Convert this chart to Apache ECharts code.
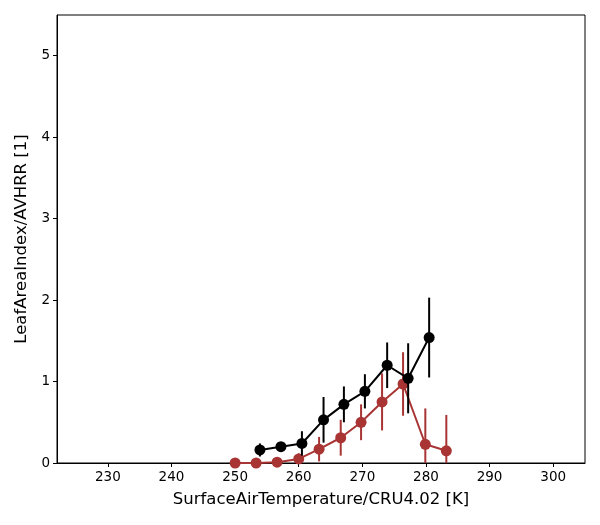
<!DOCTYPE html>
<html>
<head>
<meta charset="utf-8">
<script src="https://cdn.jsdelivr.net/npm/echarts@6/dist/echarts.min.js"></script>
<style>
    html, body {margin: 0; padding: 0; background: #fff;}
    #chart {width: 600px; height: 525px;}
</style>
</head>
<body>
<div id="chart"></div>
<script>
// black series (upper curve)
const blackX = [253.9, 257.2, 260.5, 263.9, 267.1, 270.4, 273.9, 277.2, 280.5];
const blackY = [0.16, 0.20, 0.24, 0.53, 0.72, 0.88, 1.20, 1.04, 1.54];
const blackErr = [0.08, 0.05, 0.15, 0.28, 0.22, 0.21, 0.28, 0.43, 0.49];

// red series (lower curve)
const redX = [250.0, 253.3, 256.6, 260.0, 263.2, 266.6, 269.8, 273.1, 276.4, 279.9, 283.2];
const redY = [0.00, 0.00, 0.01, 0.05, 0.17, 0.31, 0.50, 0.75, 0.97, 0.23, 0.15];
const redErr = [0.01, 0.01, 0.02, 0.07, 0.15, 0.22, 0.22, 0.35, 0.39, 0.44, 0.44];

const xTicks = [230, 240, 250, 260, 270, 280, 290, 300];
const yTicks = [0, 1, 2, 3, 4, 5];

const BLACK = '#000000';
const RED = '#a83434';
const FONT = 'DejaVu Sans';

function points(xs, ys) {
    return xs.map(function (x, i) { return [x, ys[i]]; });
}

function errData(xs, ys, es) {
    return xs.map(function (x, i) { return [x, ys[i] - es[i], ys[i] + es[i]]; });
}

function errSeries(xs, ys, es, color, z) {
    return {
        type: 'custom',
        z: z,
        clip: true,
        data: errData(xs, ys, es),
        encode: {x: 0, y: [1, 2]},
        renderItem: function (params, api) {
            const lo = api.coord([api.value(0), api.value(1)]);
            const hi = api.coord([api.value(0), api.value(2)]);
            return {
                type: 'line',
                shape: {x1: lo[0], y1: lo[1], x2: hi[0], y2: hi[1]},
                style: {stroke: color, lineWidth: 2}
            };
        }
    };
}

function lineSeries(xs, ys, color, z) {
    return {
        type: 'line',
        z: z,
        data: points(xs, ys),
        symbol: 'circle',
        symbolSize: 11,
        lineStyle: {color: color, width: 2},
        itemStyle: {color: color},
        animation: false
    };
}

const myChart = echarts.init(document.getElementById('chart'));
myChart.setOption({
    animation: false,
    textStyle: {fontFamily: FONT},
    grid: {
        left: 57, right: 15, top: 15, bottom: 62,
        show: true, borderColor: '#000', borderWidth: 1
    },
    xAxis: {
        type: 'value',
        min: 222,
        max: 305,
        name: 'SurfaceAirTemperature/CRU4.02 [K]',
        nameLocation: 'middle',
        nameGap: 28,
        nameTextStyle: {fontSize: 16.5, color: '#000', fontFamily: FONT},
        axisLine: {show: true, onZero: false, lineStyle: {color: '#000', width: 1}},
        axisTick: {show: true, length: 4, lineStyle: {color: '#000'}, customValues: xTicks},
        axisLabel: {color: '#000', fontSize: 13.5, margin: 7, customValues: xTicks, fontFamily: FONT},
        splitLine: {show: false}
    },
    yAxis: {
        type: 'value',
        min: 0,
        max: 5.5,
        name: 'LeafAreaIndex/AVHRR [1]',
        nameLocation: 'middle',
        nameGap: 27,
        nameTextStyle: {fontSize: 16.5, color: '#000', fontFamily: FONT},
        axisLine: {show: true, onZero: false, lineStyle: {color: '#000', width: 1}},
        axisTick: {show: true, length: 4, lineStyle: {color: '#000'}, customValues: yTicks},
        axisLabel: {color: '#000', fontSize: 13.5, margin: 7, customValues: yTicks, fontFamily: FONT},
        splitLine: {show: false}
    },
    series: [
        errSeries(redX, redY, redErr, RED, 2),
        lineSeries(redX, redY, RED, 3),
        errSeries(blackX, blackY, blackErr, BLACK, 4),
        lineSeries(blackX, blackY, BLACK, 5)
    ]
});
</script>
</body>
</html>
